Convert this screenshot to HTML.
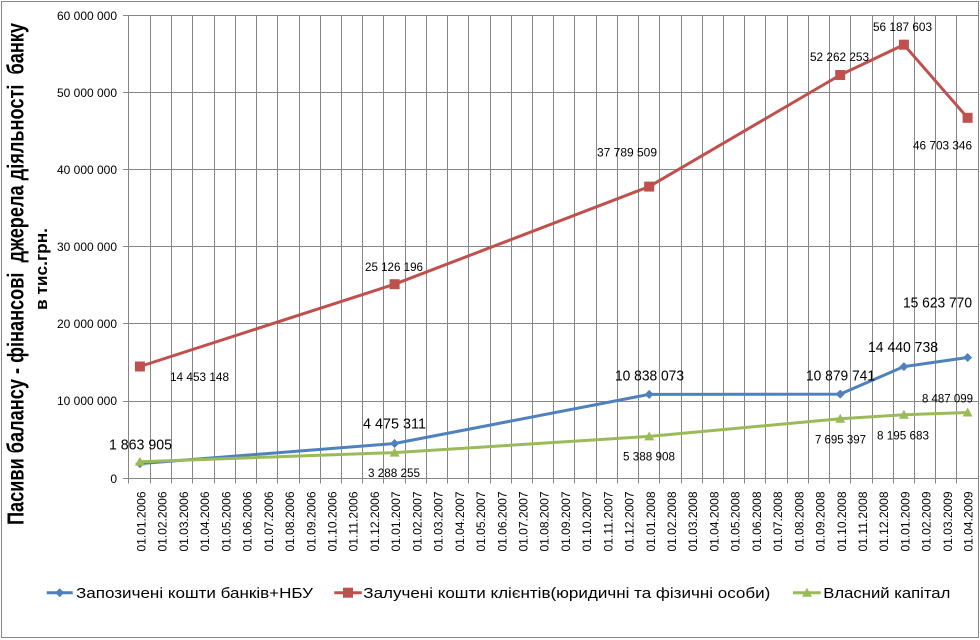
<!DOCTYPE html>
<html>
<head>
<meta charset="utf-8">
<style>
html,body{margin:0;padding:0;background:#fff;}
svg{display:block;}
text{font-family:"Liberation Sans",Arial,sans-serif;fill:#000;}
.xl{font-size:12px;}
.sm{font-size:12px;}
.lg{font-size:15px;}
</style>
</head>
<body>
<svg width="980" height="640" viewBox="0 0 980 640" xmlns="http://www.w3.org/2000/svg">
<rect x="0" y="0" width="980" height="640" fill="#fff"/>
<rect x="1.5" y="1.5" width="977" height="636" fill="none" stroke="#868686" stroke-width="1"/>

<!-- vertical gridlines + ticks -->
<path fill="none" stroke="#868686" stroke-width="1" d="
M128.5 15.5V483.5 M150.5 15.5V483.5 M171.5 15.5V483.5 M192.5 15.5V483.5 M214.5 15.5V483.5
M235.5 15.5V483.5 M256.5 15.5V483.5 M277.5 15.5V483.5 M299.5 15.5V483.5 M320.5 15.5V483.5
M341.5 15.5V483.5 M362.5 15.5V483.5 M383.5 15.5V483.5 M405.5 15.5V483.5 M426.5 15.5V483.5
M447.5 15.5V483.5 M468.5 15.5V483.5 M490.5 15.5V483.5 M511.5 15.5V483.5 M532.5 15.5V483.5
M553.5 15.5V483.5 M574.5 15.5V483.5 M596.5 15.5V483.5 M617.5 15.5V483.5 M638.5 15.5V483.5
M659.5 15.5V483.5 M681.5 15.5V483.5 M702.5 15.5V483.5 M723.5 15.5V483.5 M744.5 15.5V483.5
M765.5 15.5V483.5 M787.5 15.5V483.5 M808.5 15.5V483.5 M829.5 15.5V483.5 M850.5 15.5V483.5
M872.5 15.5V483.5 M893.5 15.5V483.5 M914.5 15.5V483.5 M935.5 15.5V483.5 M956.5 15.5V483.5
M978.5 15.5V483.5"/>
<!-- horizontal gridlines -->
<path fill="none" stroke="#868686" stroke-width="1" d="
M123 15.5H978.5 M123 92.5H978.5 M123 169.5H978.5 M123 246.5H978.5 M123 323.5H978.5 M123 401.5H978.5 M123 478.5H978.5"/>

<!-- y axis labels -->
<g class="sm" text-anchor="end">
<text x="117" y="19.8" textLength="60" lengthAdjust="spacingAndGlyphs">60 000 000</text>
<text x="117" y="96.8" textLength="60" lengthAdjust="spacingAndGlyphs">50 000 000</text>
<text x="117" y="173.8" textLength="60" lengthAdjust="spacingAndGlyphs">40 000 000</text>
<text x="117" y="250.8" textLength="60" lengthAdjust="spacingAndGlyphs">30 000 000</text>
<text x="117" y="328" textLength="60" lengthAdjust="spacingAndGlyphs">20 000 000</text>
<text x="117" y="405.2" textLength="60" lengthAdjust="spacingAndGlyphs">10 000 000</text>
<text x="117" y="482.8">0</text>
</g>

<!-- y axis title -->
<text transform="translate(23.5,274) rotate(-90)" text-anchor="middle" font-size="23" font-weight="bold" textLength="502" lengthAdjust="spacingAndGlyphs" style="white-space:pre">Пасиви балансу - фінансові  джерела діяльності  банку</text>
<text transform="translate(47,269) rotate(-90)" text-anchor="middle" font-size="17" font-weight="bold" textLength="82" lengthAdjust="spacingAndGlyphs">в тис.грн.</text>

<!-- x axis labels -->
<g class="xl" text-anchor="end">
<text transform="translate(145.5,491.5) rotate(-90)" textLength="60" lengthAdjust="spacingAndGlyphs">01.01.2006</text>
<text transform="translate(166.7,491.5) rotate(-90)" textLength="60" lengthAdjust="spacingAndGlyphs">01.02.2006</text>
<text transform="translate(188,491.5) rotate(-90)" textLength="60" lengthAdjust="spacingAndGlyphs">01.03.2006</text>
<text transform="translate(209.2,491.5) rotate(-90)" textLength="60" lengthAdjust="spacingAndGlyphs">01.04.2006</text>
<text transform="translate(230.4,491.5) rotate(-90)" textLength="60" lengthAdjust="spacingAndGlyphs">01.05.2006</text>
<text transform="translate(251.6,491.5) rotate(-90)" textLength="60" lengthAdjust="spacingAndGlyphs">01.06.2006</text>
<text transform="translate(272.8,491.5) rotate(-90)" textLength="60" lengthAdjust="spacingAndGlyphs">01.07.2006</text>
<text transform="translate(294.1,491.5) rotate(-90)" textLength="60" lengthAdjust="spacingAndGlyphs">01.08.2006</text>
<text transform="translate(315.3,491.5) rotate(-90)" textLength="60" lengthAdjust="spacingAndGlyphs">01.09.2006</text>
<text transform="translate(336.5,491.5) rotate(-90)" textLength="60" lengthAdjust="spacingAndGlyphs">01.10.2006</text>
<text transform="translate(357.7,491.5) rotate(-90)" textLength="60" lengthAdjust="spacingAndGlyphs">01.11.2006</text>
<text transform="translate(378.9,491.5) rotate(-90)" textLength="60" lengthAdjust="spacingAndGlyphs">01.12.2006</text>
<text transform="translate(400.2,491.5) rotate(-90)" textLength="60" lengthAdjust="spacingAndGlyphs">01.01.2007</text>
<text transform="translate(421.4,491.5) rotate(-90)" textLength="60" lengthAdjust="spacingAndGlyphs">01.02.2007</text>
<text transform="translate(442.6,491.5) rotate(-90)" textLength="60" lengthAdjust="spacingAndGlyphs">01.03.2007</text>
<text transform="translate(463.8,491.5) rotate(-90)" textLength="60" lengthAdjust="spacingAndGlyphs">01.04.2007</text>
<text transform="translate(485,491.5) rotate(-90)" textLength="60" lengthAdjust="spacingAndGlyphs">01.05.2007</text>
<text transform="translate(506.3,491.5) rotate(-90)" textLength="60" lengthAdjust="spacingAndGlyphs">01.06.2007</text>
<text transform="translate(527.5,491.5) rotate(-90)" textLength="60" lengthAdjust="spacingAndGlyphs">01.07.2007</text>
<text transform="translate(548.7,491.5) rotate(-90)" textLength="60" lengthAdjust="spacingAndGlyphs">01.08.2007</text>
<text transform="translate(569.9,491.5) rotate(-90)" textLength="60" lengthAdjust="spacingAndGlyphs">01.09.2007</text>
<text transform="translate(591.1,491.5) rotate(-90)" textLength="60" lengthAdjust="spacingAndGlyphs">01.10.2007</text>
<text transform="translate(612.4,491.5) rotate(-90)" textLength="60" lengthAdjust="spacingAndGlyphs">01.11.2007</text>
<text transform="translate(633.6,491.5) rotate(-90)" textLength="60" lengthAdjust="spacingAndGlyphs">01.12.2007</text>
<text transform="translate(654.8,491.5) rotate(-90)" textLength="60" lengthAdjust="spacingAndGlyphs">01.01.2008</text>
<text transform="translate(676,491.5) rotate(-90)" textLength="60" lengthAdjust="spacingAndGlyphs">01.02.2008</text>
<text transform="translate(697.2,491.5) rotate(-90)" textLength="60" lengthAdjust="spacingAndGlyphs">01.03.2008</text>
<text transform="translate(718.5,491.5) rotate(-90)" textLength="60" lengthAdjust="spacingAndGlyphs">01.04.2008</text>
<text transform="translate(739.7,491.5) rotate(-90)" textLength="60" lengthAdjust="spacingAndGlyphs">01.05.2008</text>
<text transform="translate(760.9,491.5) rotate(-90)" textLength="60" lengthAdjust="spacingAndGlyphs">01.06.2008</text>
<text transform="translate(782.1,491.5) rotate(-90)" textLength="60" lengthAdjust="spacingAndGlyphs">01.07.2008</text>
<text transform="translate(803.3,491.5) rotate(-90)" textLength="60" lengthAdjust="spacingAndGlyphs">01.08.2008</text>
<text transform="translate(824.6,491.5) rotate(-90)" textLength="60" lengthAdjust="spacingAndGlyphs">01.09.2008</text>
<text transform="translate(845.8,491.5) rotate(-90)" textLength="60" lengthAdjust="spacingAndGlyphs">01.10.2008</text>
<text transform="translate(867,491.5) rotate(-90)" textLength="60" lengthAdjust="spacingAndGlyphs">01.11.2008</text>
<text transform="translate(888.2,491.5) rotate(-90)" textLength="60" lengthAdjust="spacingAndGlyphs">01.12.2008</text>
<text transform="translate(909.4,491.5) rotate(-90)" textLength="60" lengthAdjust="spacingAndGlyphs">01.01.2009</text>
<text transform="translate(930.7,491.5) rotate(-90)" textLength="60" lengthAdjust="spacingAndGlyphs">01.02.2009</text>
<text transform="translate(951.9,491.5) rotate(-90)" textLength="60" lengthAdjust="spacingAndGlyphs">01.03.2009</text>
<text transform="translate(972.5,491.5) rotate(-90)" textLength="60" lengthAdjust="spacingAndGlyphs">01.04.2009</text>
</g>

<!-- series: blue -->
<polyline fill="none" stroke="#4F81BD" stroke-width="3" stroke-linejoin="round" points="139.9,463.6 394.6,443.5 649.2,394.4 840.2,394.1 903.9,366.6 967.6,357.5"/>
<g fill="#4F81BD">
<path d="M139.9 459.1L144.4 463.6L139.9 468.1L135.4 463.6Z"/>
<path d="M394.6 439L399.1 443.5L394.6 448L390.1 443.5Z"/>
<path d="M649.2 389.9L653.7 394.4L649.2 398.9L644.7 394.4Z"/>
<path d="M840.2 389.6L844.7 394.1L840.2 398.6L835.7 394.1Z"/>
<path d="M903.9 362.1L908.4 366.6L903.9 371.1L899.4 366.6Z"/>
<path d="M967.6 353L972.1 357.5L967.6 362L963.1 357.5Z"/>
</g>

<!-- series: red -->
<polyline fill="none" stroke="#C0504D" stroke-width="3" stroke-linejoin="round" points="139.9,366.5 394.6,284.2 649.2,186.6 840.2,75 903.9,44.7 967.6,117.8"/>
<g fill="#C0504D">
<rect x="134.9" y="361.5" width="10" height="10"/>
<rect x="389.6" y="279.2" width="10" height="10"/>
<rect x="644.2" y="181.6" width="10" height="10"/>
<rect x="835.2" y="70" width="10" height="10"/>
<rect x="898.9" y="39.7" width="10" height="10"/>
<rect x="962.6" y="112.8" width="10" height="10"/>
</g>

<!-- series: green -->
<polyline fill="none" stroke="#9BBB59" stroke-width="3" stroke-linejoin="round" points="139.9,461.8 394.6,452.6 649.2,436.4 840.2,418.7 903.9,414.8 967.6,412.5"/>
<g fill="#9BBB59">
<path d="M139.9 456.8L144.9 465.8L134.9 465.8Z"/>
<path d="M394.6 447.6L399.6 456.6L389.6 456.6Z"/>
<path d="M649.2 431.4L654.2 440.4L644.2 440.4Z"/>
<path d="M840.2 413.7L845.2 422.7L835.2 422.7Z"/>
<path d="M903.9 409.8L908.9 418.8L898.9 418.8Z"/>
<path d="M967.6 407.5L972.6 416.5L962.6 416.5Z"/>
</g>

<!-- data labels blue (large) -->
<g class="lg">
<text x="109" y="449.3" textLength="63" lengthAdjust="spacingAndGlyphs">1 863 905</text>
<text x="363" y="428.3" textLength="63" lengthAdjust="spacingAndGlyphs">4 475 311</text>
<text x="615" y="380.3" textLength="69" lengthAdjust="spacingAndGlyphs">10 838 073</text>
<text x="806" y="380.3" textLength="69" lengthAdjust="spacingAndGlyphs">10 879 741</text>
<text x="868" y="352" textLength="70" lengthAdjust="spacingAndGlyphs">14 440 738</text>
<text x="903" y="307.3" textLength="69" lengthAdjust="spacingAndGlyphs">15 623 770</text>
</g>
<!-- data labels red -->
<g class="sm">
<text x="170" y="381" textLength="59" lengthAdjust="spacingAndGlyphs">14 453 148</text>
<text x="365" y="271" textLength="58" lengthAdjust="spacingAndGlyphs">25 126 196</text>
<text x="597" y="156.6" textLength="60" lengthAdjust="spacingAndGlyphs">37 789 509</text>
<text x="810" y="61" textLength="59" lengthAdjust="spacingAndGlyphs">52 262 253</text>
<text x="873" y="31" textLength="59" lengthAdjust="spacingAndGlyphs">56 187 603</text>
<text x="913" y="149.3" textLength="59" lengthAdjust="spacingAndGlyphs">46 703 346</text>
</g>
<!-- data labels green -->
<g class="sm">
<text x="368" y="477" textLength="52" lengthAdjust="spacingAndGlyphs">3 288 255</text>
<text x="623" y="460.3" textLength="52" lengthAdjust="spacingAndGlyphs">5 388 908</text>
<text x="815" y="443.6" textLength="51" lengthAdjust="spacingAndGlyphs">7 695 397</text>
<text x="877" y="439.3" textLength="52" lengthAdjust="spacingAndGlyphs">8 195 683</text>
<text x="922" y="402.6" textLength="51" lengthAdjust="spacingAndGlyphs">8 487 099</text>
</g>

<!-- legend -->
<line x1="46.7" y1="592.7" x2="72.7" y2="592.7" stroke="#4F81BD" stroke-width="3"/>
<path d="M59.7 588.2L64.2 592.7L59.7 597.2L55.2 592.7Z" fill="#4F81BD"/>
<text class="lg" x="76" y="598" textLength="237" lengthAdjust="spacingAndGlyphs">Запозичені кошти банків+НБУ</text>

<line x1="334.3" y1="592.7" x2="361.7" y2="592.7" stroke="#C0504D" stroke-width="3"/>
<rect x="343" y="587.7" width="10" height="10" fill="#C0504D"/>
<text class="lg" x="363.3" y="598" textLength="407" lengthAdjust="spacingAndGlyphs">Залучені кошти клієнтів(юридичні та фізичні особи)</text>

<line x1="793" y1="592.7" x2="820.7" y2="592.7" stroke="#9BBB59" stroke-width="3"/>
<path d="M807 587.7L812 596.7L802 596.7Z" fill="#9BBB59"/>
<text class="lg" x="823.3" y="598" textLength="127" lengthAdjust="spacingAndGlyphs">Власний капітал</text>
</svg>
</body>
</html>
